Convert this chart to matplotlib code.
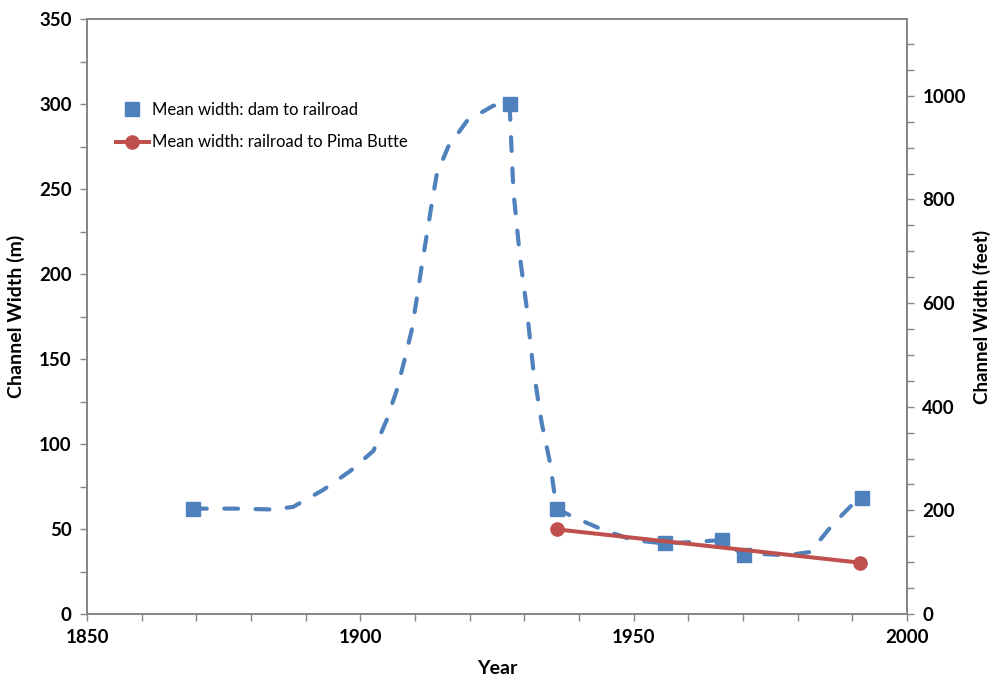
import matplotlib
matplotlib.use("Agg")
import matplotlib.pyplot as plt
from matplotlib.lines import Line2D
from matplotlib.ticker import MultipleLocator

plt.rcParams["font.family"] = ["Lato", "DejaVu Sans"]

# points mesurés (m) : tronçon barrage -> voie ferrée
dam_year = [1869.4, 1927.3, 1935.9, 1955.7, 1966.1, 1970.1, 1991.7]
dam_width = [62, 300, 62, 41.5, 43.5, 34.7, 68]

# tronçon voie ferrée -> Pima Butte
rr_year = [1935.9, 1991.4]
rr_width = [49.8, 30.2]

curve_year = [1869.4, 1877, 1884, 1887.7, 1893.2, 1898.1, 1902.4, 1904.8,
              1906.7, 1908.2, 1909.4, 1910.3, 1911.2, 1912.1, 1913.0, 1914.0,
              1916.1, 1919.5, 1924.3, 1927.3, 1928.0, 1929.2, 1930.4, 1931.6,
              1933.2, 1934.7, 1935.9, 1939.0, 1944.4, 1949.9, 1955.7, 1961.5,
              1966.1, 1967.6, 1970.1, 1972.5, 1978.0, 1982.3, 1986.5, 1990.2,
              1991.7]
curve_width = [62, 62, 61.5, 63, 73, 84, 96, 114,
               132, 151, 167, 185, 204, 222, 240, 259,
               275, 290, 299, 300, 249, 210, 181, 145,
               112, 89, 62, 57, 49.5, 43.5, 41.5, 42.5,
               43.5, 40.5, 34.7, 35.5, 34.5, 36.5, 53, 65,
               68]

M_TO_FT = 3.28084
blue = "#4F81BD"
red = "#C0504D"
grey = "#868686"

fig = plt.figure(figsize=(9.92, 6.79), dpi=100)
ax = fig.add_axes([0.0877, 0.0957, 0.8266, 0.8763])

ax.plot(curve_year, curve_width, color=blue, lw=3.0, dashes=(3.3, 4.2),
        dash_capstyle="round", zorder=2)
ax.plot(dam_year, dam_width, ls="none", marker="s", ms=10, color=blue, zorder=3)
ax.plot(rr_year, rr_width, color=red, lw=2.9, marker="o", ms=9.5, zorder=4)

ax.set_xlim(1850, 2000)
ax.set_ylim(0, 350)
ax.xaxis.set_major_locator(MultipleLocator(50))
ax.xaxis.set_minor_locator(MultipleLocator(10))
ax.yaxis.set_major_locator(MultipleLocator(50))
ax.yaxis.set_minor_locator(MultipleLocator(25))

ax2 = ax.twinx()
ax2.set_ylim(0, 350 * M_TO_FT)
ax2.yaxis.set_major_locator(MultipleLocator(200))
ax2.yaxis.set_minor_locator(MultipleLocator(50))

for a in (ax, ax2):
    for s in a.spines.values():
        s.set_color(grey)
        s.set_linewidth(1.3)
    a.tick_params(which="both", color=grey, direction="out", width=1)
    a.tick_params(which="major", length=5, labelsize=13.5, pad=6)
    a.tick_params(which="minor", length=5)
    for lab in a.get_xticklabels() + a.get_yticklabels():
        lab.set_fontweight("bold")

ax.set_xlabel("Year", fontsize=14, fontweight="bold", labelpad=10)
ax.set_ylabel("Channel Width (m)", fontsize=14, fontweight="bold", labelpad=10)
ax2.set_ylabel("Channel Width (feet)", fontsize=13.5, fontweight="bold", labelpad=5)

handles = [
    Line2D([], [], ls="none", marker="s", ms=10, color=blue),
    Line2D([], [], color=red, lw=2.9, marker="o", ms=9.5),
]
ax.legend(handles, ["Mean width: dam to railroad",
                    "Mean width: railroad to Pima Butte"],
          loc="upper left", bbox_to_anchor=(0.035, 0.8605), frameon=False,
          fontsize=12, borderpad=0, borderaxespad=0, handlelength=2.0,
          handletextpad=0.15, labelspacing=0.98)

fig.savefig("out.png", dpi=100)
